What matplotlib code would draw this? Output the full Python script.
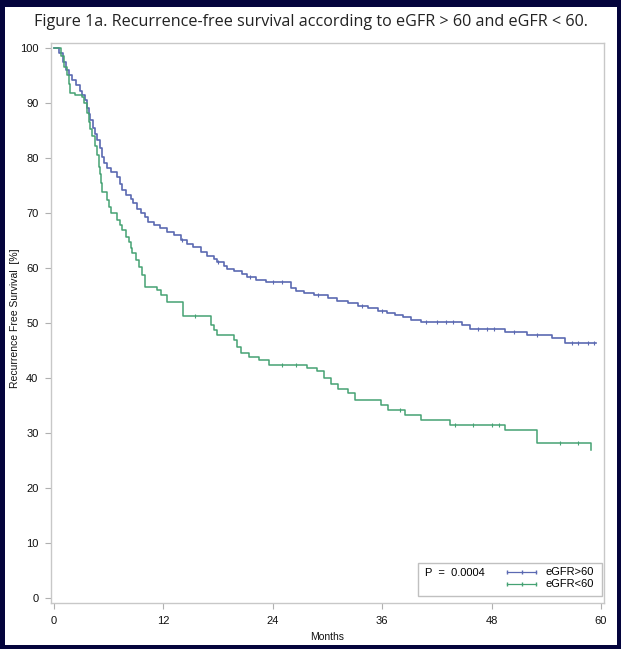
import numpy as np
import matplotlib
matplotlib.use('Agg')
import matplotlib.pyplot as plt
from matplotlib.patches import Rectangle
from matplotlib.lines import Line2D

W, H = 621, 649

# Kaplan-Meier steps (months, % recurrence free)
high_t = [0, 0.6, 1.0, 1.3, 1.6, 2.0, 2.4, 2.8, 3.1, 3.4, 3.6, 3.8, 4.0, 4.3, 4.5, 4.7,
          5.0, 5.25, 5.5, 5.8, 6.3, 6.9, 7.2, 7.5, 7.9, 8.4, 8.7, 9.1, 9.5, 10.0, 10.3,
          11.0, 11.6, 12.4, 13.2, 13.9, 14.6, 15.3, 16.1, 16.8, 17.5, 17.9, 18.6, 19.0,
          19.7, 20.6, 21.2, 22.2, 23.2, 26.0, 26.5, 27.4, 28.5, 30.0, 31.0, 32.2, 33.3,
          34.4, 35.5, 36.5, 37.4, 38.3, 39.2, 40.3, 44.7, 45.6, 49.5, 51.9, 54.6, 56.1, 59.5]
high_s = [100, 99, 97.5, 96, 95, 94.2, 93.2, 92.2, 91.5, 90.5, 89, 88, 86.9, 85.5, 84.3, 83.3,
          81.8, 80.2, 79, 78.1, 77.5, 76.6, 75.3, 74.2, 73.2, 72.5, 71.8, 70.8, 70, 69.3, 68.4,
          67.9, 67.3, 66.6, 66, 65.1, 64.4, 63.8, 62.9, 62.2, 61.6, 61, 60.4, 59.9,
          59.4, 58.9, 58.4, 57.9, 57.5, 56.3, 55.8, 55.4, 55, 54.5, 54.0, 53.6, 53.1,
          52.7, 52.2, 51.8, 51.4, 51.0, 50.6, 50.2, 49.6, 49.0, 48.3, 47.8, 47.2, 46.3, 46.3]
high_cens = [14.0, 18.0, 21.5, 24.0, 25.0, 29.0, 33.8, 36.0, 40.8, 42.0, 43.0, 43.8, 46.5,
             47.5, 48.3, 50.5, 53.0, 56.8, 57.5, 58.6, 59.2]

low_t = [0, 0.8, 1.1, 1.4, 1.6, 1.8, 2.3, 3.1, 3.3, 3.6, 3.8, 4.0, 4.2, 4.5, 4.7, 4.9, 5.0,
         5.15, 5.25, 5.8, 6.0, 6.25, 6.9, 7.2, 7.45, 7.9, 8.2, 8.4, 8.6, 9.0, 9.3, 9.6, 10.0,
         11.3, 11.7, 12.4, 14.2, 17.2, 17.6, 17.9, 19.7, 20.1, 20.5, 21.4, 22.5, 23.6, 27.8,
         28.9, 29.6, 30.4, 31.2, 32.2, 33.0, 35.9, 36.6, 38.5, 40.3, 43.4, 49.5, 53.0, 58.9]
low_s = [100, 98.5, 96.5, 95.0, 93.5, 91.8, 91.4, 91.0, 90, 88.1, 86.5, 85.2, 84.0, 82.1, 80.5,
         78.4, 77, 75.5, 73.9, 72.4, 71, 70, 68.7, 67.8, 66.9, 65.7, 64.8, 63.7, 62.7, 61.5,
         60.2, 58.8, 56.6, 56.0, 55.0, 53.9, 51.2, 49.6, 48.7, 47.8, 46.9, 45.7, 44.5, 43.9,
         43.3, 42.4, 41.8, 41.2, 40.0, 39.0, 38.0, 37.2, 36.0, 35.1, 34.2, 33.3, 32.4, 31.5,
         30.5, 28.1, 26.9]
low_cens = [15.5, 25.0, 26.5, 38.0, 44.0, 46.0, 48.0, 48.8, 55.5, 57.5]

BLUE = '#5b69b2'
GREEN = '#45a273'
BG = '#04043c'


def fx(px):
    return px / W


def fy(py):
    return 1 - py / H


def step_value(t, s, x):
    i = np.searchsorted(t, x, side='right') - 1
    return np.asarray(s)[i]


plt.rcParams['font.family'] = ['Liberation Sans', 'DejaVu Sans']

fig = plt.figure(figsize=(W / 100, H / 100), dpi=100)
fig.patch.set_facecolor(BG)
fig.add_artist(Rectangle((fx(5), fy(645)), fx(617) - fx(5), fy(7) - fy(645),
                         transform=fig.transFigure, facecolor='white', edgecolor='none', zorder=0))

fig.text(fx(311), fy(22), 'Figure 1a. Recurrence-free survival according to eGFR > 60 and eGFR < 60.',
         ha='center', va='center', fontsize=11.6, family=['Open Sans', 'DejaVu Sans'], color='#222222')

ax = fig.add_axes([fx(51), fy(603), fx(604) - fx(51), fy(43) - fy(603)])
ax.set_facecolor('white')

ax.step(high_t, high_s, where='post', color=BLUE, lw=1.2, zorder=3)
ax.step(low_t, low_s, where='post', color=GREEN, lw=1.1, zorder=3)
ax.plot(high_cens, step_value(high_t, high_s, high_cens), '|', color=BLUE, ms=3.5, mew=0.8, zorder=4)
ax.plot(low_cens, step_value(low_t, low_s, low_cens), '|', color=GREEN, ms=3.5, mew=0.8, zorder=4)

ax.set_xlim(-0.33, 60.33)
ax.set_ylim(-0.9, 100.9)
ax.set_xticks([0, 12, 24, 36, 48, 60])
ax.set_yticks(range(0, 101, 10))
for sp in ax.spines.values():
    sp.set_color('#c8c8c8')
    sp.set_linewidth(1.0)
ax.tick_params(length=4, width=0.8, color='#b0b0b0', labelsize=8, labelcolor='#111111', pad=5)

fig.text(fx(327), fy(637), 'Months', fontsize=7.5, ha='center', va='center', color='#111111')
fig.text(fx(15), fy(318), 'Recurrence Free Survival  [%]', fontsize=7.5, rotation=90,
         ha='center', va='center', color='#111111')

# legend box with p-value
fig.add_artist(Rectangle((fx(418), fy(596)), fx(602) - fx(418), fy(563) - fy(596),
                         transform=fig.transFigure, facecolor='white', edgecolor='#c0c0c0', lw=1.0, zorder=5))
fig.text(fx(425), fy(573), 'P  =  0.0004', fontsize=8, va='center', ha='left', zorder=6)
for yy, col, lab in [(572, BLUE, 'eGFR>60'), (584, GREEN, 'eGFR<60')]:
    fig.add_artist(Line2D([fx(507), fx(536)], [fy(yy), fy(yy)], color=col, lw=0.9,
                          marker='|', markevery=[0, 1], ms=3, transform=fig.transFigure, zorder=6))
    fig.add_artist(Line2D([fx(521.5)], [fy(yy)], color=col, marker='|', ms=3, lw=0,
                          transform=fig.transFigure, zorder=6))
    fig.text(fx(545), fy(yy), lab, fontsize=8, va='center', ha='left', zorder=6)

fig.savefig('out.png', dpi=100, facecolor=BG)
